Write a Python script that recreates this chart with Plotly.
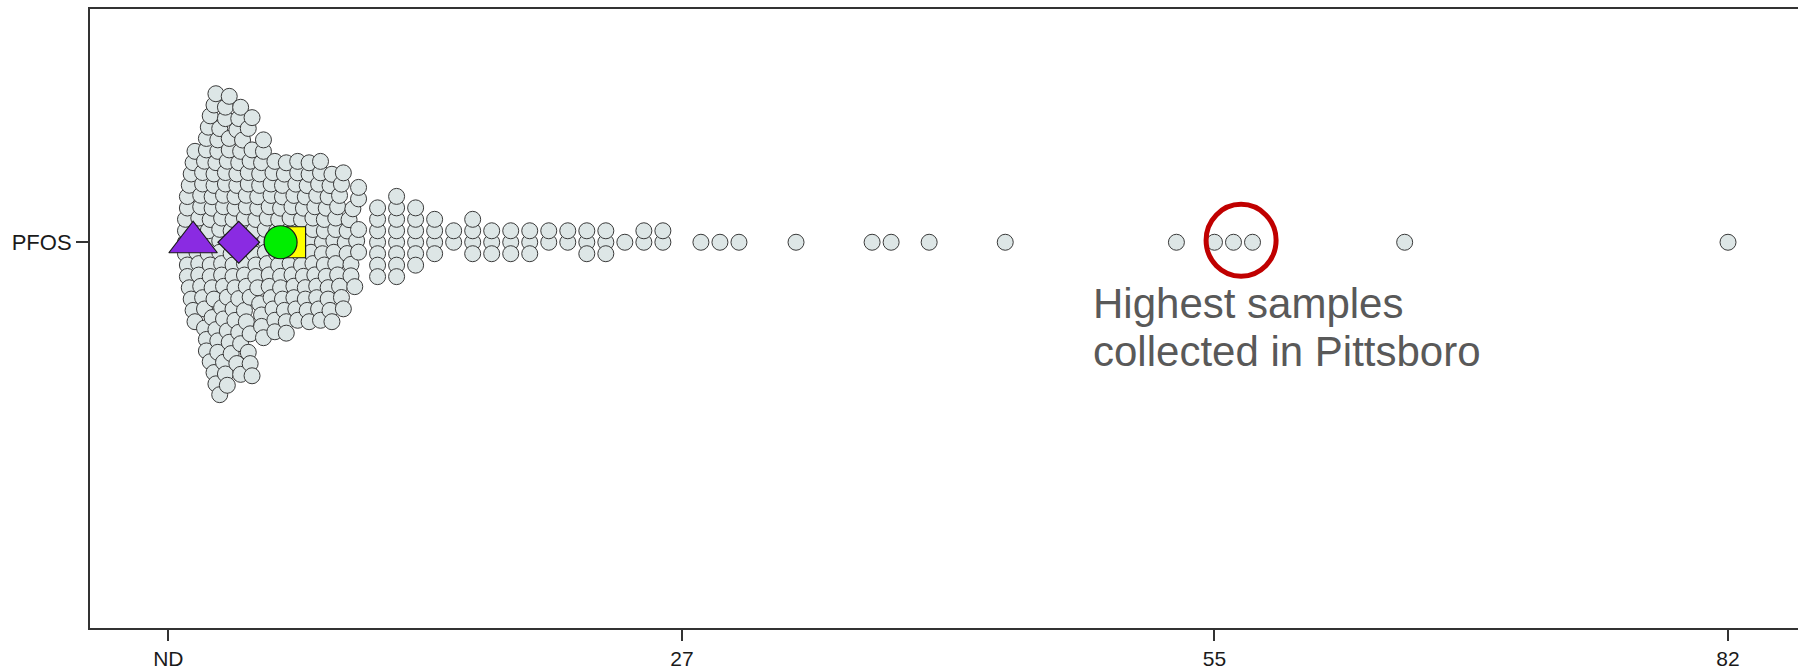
import numpy as np
import plotly.graph_objects as go

# ---- data -------------------------------------------------------------
# PFOS results below 10 are reported to 0.1; each row holds the number of
# samples at <unit>.0, <unit>.1, ... <unit>.9
low_units = [0, 1, 2, 3, 4, 5, 6, 7, 8, 9]
low_counts = [
    [0, 0, 0, 0, 0, 0, 0, 0, 0, 4],
    [4, 2, 2, 2, 2, 3, 3, 3, 3, 3],
    [4, 4, 5, 4, 5, 4, 4, 5, 4, 5],
    [5, 4, 4, 4, 4, 4, 4, 4, 4, 4],
    [4, 4, 4, 4, 3, 3, 3, 3, 3, 3],
    [3, 3, 2, 3, 3, 2, 3, 3, 2, 3],
    [3, 2, 3, 2, 3, 2, 3, 2, 3, 2],
    [3, 2, 3, 2, 3, 2, 3, 2, 3, 2],
    [3, 2, 3, 2, 3, 2, 2, 2, 3, 2],
    [2, 2, 2, 1, 2, 1, 2, 1, 1, 1],
]

# PFOS results of 10 and above are whole numbers
high_values = [10, 11, 12, 13, 14, 15, 16, 17, 18, 19, 20, 21, 22, 23, 24, 25, 26,
               28, 29, 30, 33, 37, 38, 40, 44, 53, 55, 56, 57, 65, 82]
high_counts = [4, 7, 8, 6, 4, 2, 4, 3, 3, 3, 2, 2, 3, 3, 1, 2, 2,
               1, 1, 1, 1, 1, 1, 1, 1, 1, 1, 1, 1, 1, 1]

# comparison values drawn with their own symbols
ref_values = [1.3, 3.7, 6.4, 5.9]
ref_symbols = ["triangle-up", "diamond", "square", "circle"]
ref_colors = ["#8a2be2", "#8a2be2", "#ffff00", "#00ee00"]
ref_sizes = [42, 32, 31, 33]

tick_vals = [0, 27, 55, 82]
tick_text = ["ND", "27", "55", "82"]
category = "PFOS"

# ---- layout geometry ----------------------------------------------------
W, H = 1798, 670
M_L, M_R, M_T, M_B = 90, 0, 9, 40
X_RANGE = [-4.12, 85.68]
Y_RANGE = [-387, 234]          # y axis measured in pixels around the category line
plot_w = W - M_L - M_R
px_per_unit = plot_w / (X_RANGE[1] - X_RANGE[0])
SWARM_GAP = 11.5               # minimum centre distance between swarm points, px

values = []
for unit, row in zip(low_units, low_counts):
    for tenth, n in enumerate(row):
        values += [round(unit + tenth / 10, 1)] * n
for v, n in zip(high_values, high_counts):
    values += [v] * n
values = np.array(values, dtype=float)


def swarm(xs_px, d):
    """Place each point (ascending x) at the free offset closest to the centre line."""
    order = np.argsort(xs_px, kind="stable")
    px_list, py_list = [], []
    ys = np.zeros(len(xs_px))
    for i in order:
        x = xs_px[i]
        near = [(px, py) for px, py in zip(px_list, py_list) if abs(px - x) < d]
        cands = [0.0]
        for px, py in near:
            dy = np.sqrt(d * d - (px - x) ** 2)
            cands += [py + dy, py - dy]
        cands.sort(key=lambda c: (abs(c), -c))
        for c in cands:
            if all((px - x) ** 2 + (py - c) ** 2 >= d * d - 1e-6 for px, py in near):
                ys[i] = c
                break
        px_list.append(x)
        py_list.append(ys[i])
    return ys


offsets = swarm(values * px_per_unit, SWARM_GAP)

fig = go.Figure()
fig.add_trace(go.Scatter(
    x=values, y=offsets, mode="markers", hoverinfo="x",
    marker=dict(size=16, color="#dde6e6", line=dict(color="#3a3a3a", width=1)),
    showlegend=False,
))
for v, sym, col, sz in zip(ref_values, ref_symbols, ref_colors, ref_sizes):
    fig.add_trace(go.Scatter(
        x=[v], y=[0], mode="markers", hoverinfo="x",
        marker=dict(symbol=sym, size=sz, color=col, line=dict(color="#1a1a1a", width=1.2)),
        showlegend=False,
    ))

# highlight ring around the Pittsboro samples
fig.add_shape(type="circle", xref="x", yref="y", xsizemode="pixel", xanchor=56.4,
              x0=-35, x1=35, y0=-34, y1=38,
              line=dict(color="#c00000", width=5))

note_font = dict(family="Liberation Sans, Arial, sans-serif", size=42, color="#595959")
fig.add_annotation(x=48.5, y=-61, xref="x", yref="y", text="Highest samples",
                   showarrow=False, xanchor="left", yanchor="middle", font=note_font)
fig.add_annotation(x=48.5, y=-110, xref="x", yref="y", text="collected in Pittsboro",
                   showarrow=False, xanchor="left", yanchor="middle", font=note_font)

axis_font = dict(family="Liberation Sans, Arial, sans-serif", size=21, color="#1a1a1a")
fig.update_xaxes(range=X_RANGE, tickvals=tick_vals, ticktext=tick_text,
                 ticks="outside", ticklen=11, tickwidth=1.5, tickcolor="#333",
                 showline=True, linewidth=2, linecolor="#333", mirror=True,
                 showgrid=False, zeroline=False, tickfont=axis_font)
fig.update_yaxes(range=Y_RANGE, tickvals=[0], ticktext=[category],
                 ticks="outside", ticklen=12, tickwidth=1.5, tickcolor="#333",
                 showline=True, linewidth=2, linecolor="#333", mirror=False,
                 showgrid=False, zeroline=False, tickfont=dict(axis_font, size=22))
fig.update_layout(width=W, height=H, margin=dict(l=M_L, r=M_R, t=M_T, b=M_B),
                  paper_bgcolor="white", plot_bgcolor="white")

fig.write_html("out.html")
